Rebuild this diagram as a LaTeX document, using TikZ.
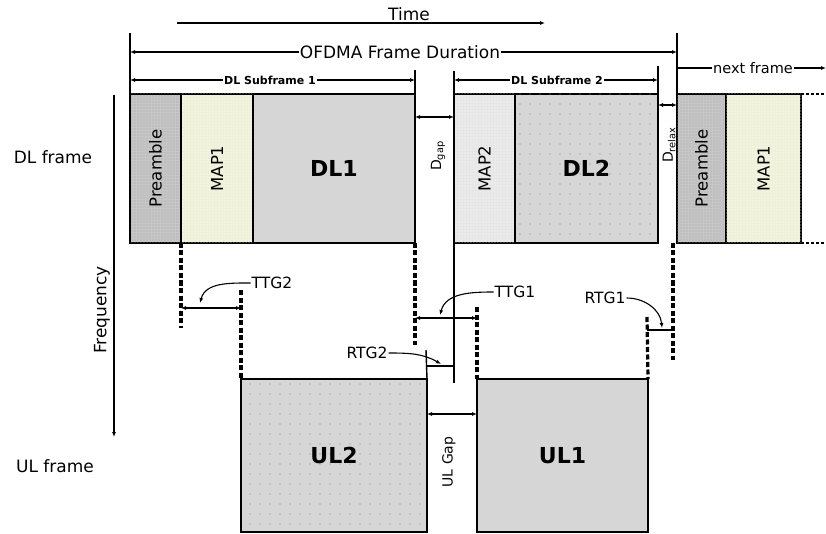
\documentclass[tikz,border=0pt]{standalone}
\usepackage{fontspec}
\setmainfont{DejaVu Sans}
\usetikzlibrary{arrows.meta,patterns,patterns.meta}
\definecolor{boxgray}{HTML}{D6D6D6}
\definecolor{pregray}{HTML}{C6C6C6}
\definecolor{mapyel}{HTML}{EEF1D8}
\definecolor{mapgray}{HTML}{E6E6E6}
\begin{document}
\begin{tikzpicture}[x=1pt,y=-1pt,
  >={Latex[length=5pt,width=4pt]},
  box/.style={draw, line width=1.5pt, anchor=north west, inner sep=0pt, outer sep=0pt, minimum height=149pt},
  prefill/.style={fill=pregray, postaction={pattern={Dots[distance=3pt,radius=0.6pt]}, pattern color=gray!70}},
  mapfill/.style={fill=mapyel, postaction={pattern={Dots[distance=3pt,radius=0.6pt]}, pattern color=white}},
  map2fill/.style={fill=mapgray, postaction={pattern={Dots[distance=3pt,radius=0.7pt]}, pattern color=white}},
  sparse/.style={fill=boxgray, postaction={pattern={Dots[distance=10pt,radius=0.7pt]}, pattern color=gray}},
  plain/.style={fill=boxgray},
  dsh/.style={line width=3.2pt, dash pattern=on 5pt off 2.5pt},
  dim/.style={line width=1.1pt},
  lbl/.style={font=\fontsize{17}{19}\selectfont, inner sep=1pt},
  tlbl/.style={font=\fontsize{15.5}{17}\selectfont, inner sep=1pt},
  big/.style={font=\fontsize{22}{24}\selectfont\bfseries},
  vlbl/.style={font=\fontsize{16.5}{18}\selectfont, rotate=90, inner sep=0pt},
  glbl/.style={font=\fontsize{14}{16}\selectfont, rotate=90, inner sep=0pt},
  small/.style={font=\fontsize{11}{12}\selectfont\bfseries, fill=white, inner sep=1pt}
]
\useasboundingbox (0,0) rectangle (826,534);

% DL boxes
\node[box, prefill, minimum width=51pt] (pre1) at (130,94) {};
\node[box, mapfill, minimum width=72pt] (map1) at (181,94) {};
\node[box, plain, minimum width=162pt] (dl1) at (253,94) {};
\node[box, map2fill, minimum width=61pt] (map2) at (454,94) {};
\node[box, sparse, minimum width=143pt] (dl2) at (515,94) {};
\node[box, prefill, minimum width=49pt] (pre2) at (677,94) {};
\node[box, mapfill, minimum width=75pt] (map3) at (726,94) {};
% UL boxes
\node[box, sparse, minimum width=186pt, minimum height=153pt] (ul2) at (241,379) {};
\node[box, plain, minimum width=171pt, minimum height=153pt] (ul1) at (477,379) {};

% box labels
\node[vlbl] (tpre1) at (pre1.center) {Preamble};
\node[vlbl] (tmap1) at (map1.center) {MAP1};
\node[big] (tdl1) at (dl1.center) {DL1};
\node[vlbl] (tmap2) at (map2.center) {MAP2};
\node[big] (tdl2) at (dl2.center) {DL2};
\node[vlbl] (tpre2) at (pre2.center) {Preamble};
\node[vlbl] (tmap3) at (map3.center) {MAP1};
\node[big] (tul2) at (ul2.center) {UL2};
\node[big] (tul1) at (ul1.center) {UL1};

% next frame dashed continuations
\coordinate (c3a) at (826,94);
\coordinate (c3b) at (826,243);
\draw[dim, dash pattern=on 3pt off 2pt] (map3.north east) -- (c3a);
\draw[dim, dash pattern=on 3pt off 2pt] (map3.south east) -- (c3b);

% Time arrow
\coordinate (t0) at (177,23);
\coordinate (t1) at (545,23);
\draw[line width=1.3pt, ->] (t0) -- (t1);
\node[lbl] (time) at (409,14) {Time};

% frame duration
\coordinate (f0) at (130,33);
\coordinate (f1) at (677,33);
\draw[line width=1.4pt] (f0) -- (pre1.north west);
\draw[line width=1.4pt] (f1) -- (pre2.north west);
\node[lbl, fill=white] (ofdma) at (400,52) {OFDMA Frame Duration};
\coordinate (fa) at (130,52);
\coordinate (fb) at (677,52);
\draw[dim, ->] (ofdma.west) -- (fa);
\draw[dim, ->] (ofdma.east) -- (fb);

% DL subframe 1
\coordinate (s1t) at (415,70);
\draw[line width=1.4pt] (s1t) -- (dl1.north east);
\node[small] (sub1) at (270,80) {DL Subframe 1};
\coordinate (s1a) at (130,80);
\coordinate (s1b) at (415,80);
\draw[dim, ->] (sub1.west) -- (s1a);
\draw[dim, ->] (sub1.east) -- (s1b);

% DL subframe 2
\coordinate (s2t) at (454,71);
\coordinate (s2u) at (658,66);
\draw[line width=1.4pt] (s2t) -- (map2.north west);
\draw[line width=1.4pt] (s2u) -- (dl2.north east);
\node[small] (sub2) at (557,80) {DL Subframe 2};
\coordinate (s2a) at (454,80);
\coordinate (s2b) at (658,80);
\draw[dim, ->] (sub2.west) -- (s2a);
\draw[dim, ->] (sub2.east) -- (s2b);

% next frame
\node[font=\fontsize{14.5}{16}\selectfont, fill=white, inner sep=1pt] (next) at (753,68) {next frame};
\coordinate (n0) at (677,68);
\coordinate (n1) at (826,68);
\draw[dim] (n0) -- (next.west);
\draw[dim, ->] (next.east) -- (n1);

% D gap and D relax
\coordinate (g0) at (415,117);
\coordinate (g1) at (454,117);
\draw[dim, <->] (g0) -- (g1);
\node[glbl] (dgap) at (438,156) {D\textsubscript{gap}};
\coordinate (r0) at (658,105);
\coordinate (r1) at (677,105);
\draw[dim, <->] (r0) -- (r1);
\node[glbl] (drelax) at (669,145) {D\textsubscript{relax}};

% left labels
\node[lbl] (dlf) at (53,157) {DL frame};
\node[lbl] (ulf) at (55,466) {UL frame};
\coordinate (fq0) at (114,95);
\coordinate (fq1) at (114,437);
\draw[line width=1.4pt, ->] (fq0) -- (fq1);
\node[lbl, rotate=90] (freq) at (102,310) {Frequency};

% TTG2
\coordinate (a1) at (181,328);
\coordinate (a2) at (241,290);
\draw[dsh] (map1.south west) -- (a1);
\draw[dsh] (a2) -- (ul2.north west);
\coordinate (tt2a) at (181,308);
\coordinate (tt2b) at (241,308);
\draw[dim, <->] (tt2a) -- (tt2b);
\node[tlbl] (ttg2) at (272,283) {TTG2};
\coordinate (tt2tip) at (200,303);
\draw[dim, ->] (ttg2.west) to[out=180,in=75] (tt2tip);

% TTG1
\coordinate (b1) at (415,345);
\coordinate (b2) at (477,307);
\draw[dsh] (dl1.south east) -- (b1);
\draw[dsh] (b2) -- (ul1.north west);
\coordinate (tt1a) at (415,318);
\coordinate (tt1b) at (477,318);
\draw[dim, <->] (tt1a) -- (tt1b);
\node[tlbl] (ttg1) at (515,292) {TTG1};
\coordinate (tt1tip) at (440,315);
\draw[dim, ->] (ttg1.west) to[out=180,in=75] (tt1tip);

% solid line below MAP2
\coordinate (m2b) at (454,383);
\draw[line width=1.4pt] (map2.south west) -- (m2b);

% RTG2
\coordinate (rg2a) at (426,350);
\coordinate (rg2b) at (426,366);
\coordinate (rg2c) at (454,366);
\draw[line width=1.4pt] (rg2a) -- (ul2.north east);
\draw[line width=1.4pt] (rg2b) -- (rg2c);
\node[tlbl] (rtg2) at (367,353) {RTG2};
\coordinate (rg2tip) at (441,364);
\draw[dim, ->] (rtg2.east) to[out=0,in=150] (rg2tip);

% RTG1
\coordinate (c1) at (647,317);
\coordinate (c2) at (673,243);
\coordinate (c3) at (673,360);
\draw[dsh] (c1) -- (ul1.north east);
\draw[dsh] (c2) -- (c3);
\coordinate (rg1a) at (647,330);
\coordinate (rg1b) at (673,330);
\draw[line width=1.4pt] (rg1a) -- (rg1b);
\node[tlbl] (rtg1) at (605,298) {RTG1};
\coordinate (rg1tip) at (662,328);
\draw[dim, ->] (rtg1.east) to[out=0,in=95] (rg1tip);

% UL gap
\coordinate (u0) at (427,414);
\coordinate (u1) at (477,414);
\draw[dim, <->] (u0) -- (u1);
\node[glbl] (ulgap) at (449,462) {UL Gap};
\end{tikzpicture}
\end{document}
